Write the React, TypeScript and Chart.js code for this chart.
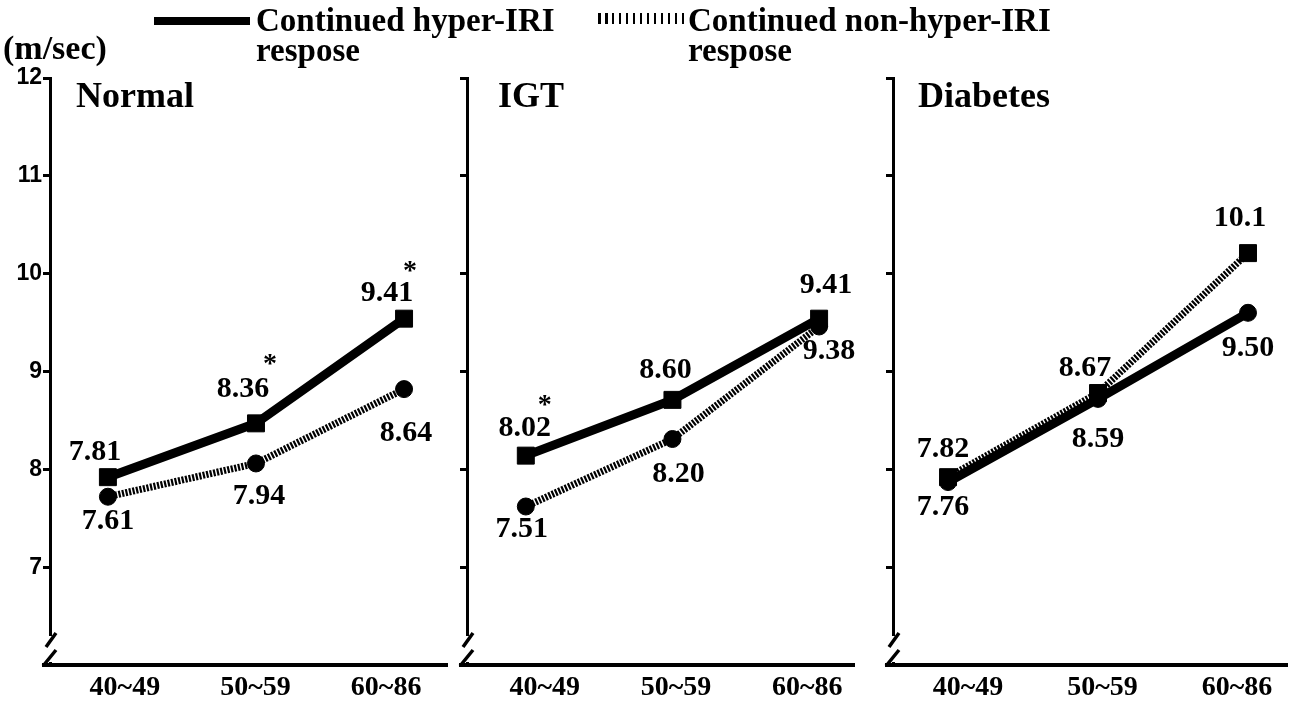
import React, { useEffect, useRef } from "react";
import { Chart, registerables } from "chart.js";

Chart.register(...registerables);

// ---------- data ----------
const ageGroups = ["40~49", "50~59", "60~86"];
const yTickValues = [7, 8, 9, 10, 11, 12];

// plotted positions of the markers
const normalHyper = [7.92, 8.47, 9.54];
const normalNonHyper = [7.72, 8.06, 8.82];
const igtHyper = [8.14, 8.71, 9.54];
const igtNonHyper = [7.62, 8.31, 9.46];
const diabetesHyper = [7.87, 8.72, 9.6];
const diabetesNonHyper = [7.92, 8.78, 10.21];

// printed value labels
const normalHyperLabels = ["7.81", "8.36", "9.41"];
const normalNonHyperLabels = ["7.61", "7.94", "8.64"];
const igtHyperLabels = ["8.02", "8.60", "9.41"];
const igtNonHyperLabels = ["7.51", "8.20", "9.38"];
const diabetesHyperLabels = ["7.76", "8.59", "9.50"];
const diabetesNonHyperLabels = ["7.82", "8.67", "10.1"];

// significance marks (point indices)
const normalHyperStars = [1, 2];
const igtHyperStars = [0];

const SERIF = '"Liberation Serif", "Times New Roman", serif';
const SANS = '"Liberation Sans", Arial, sans-serif';

type Series = {
  values: number[];
  labels: string[];
  solid: boolean;
  marker: "rect" | "circle";
  offsets: [number, number][];
  stars: number[];
  starOffsets: [number, number][];
};

type PanelCfg = {
  title: string;
  left: number;
  width: number;
  yAxisWidth: number;
  showYLabels: boolean;
  titleDx: number;
  dataMin: number;
  dataMax: number;
  labelMin: number;
  labelMax: number;
  series: Series[];
};

const panels: PanelCfg[] = [
  {
    title: "Normal",
    left: 0,
    width: 460,
    yAxisWidth: 50,
    showYLabels: true,
    titleDx: 26,
    dataMin: -0.391,
    dataMax: 2.29,
    labelMin: -0.573,
    labelMax: 2.466,
    series: [
      {
        values: normalHyper,
        labels: normalHyperLabels,
        solid: true,
        marker: "rect",
        offsets: [[-13, -25], [-13, -34], [-17, -25]],
        stars: normalHyperStars,
        starOffsets: [[14, -64], [6, -53]],
      },
      {
        values: normalNonHyper,
        labels: normalNonHyperLabels,
        solid: false,
        marker: "circle",
        offsets: [[0, 25], [3, 33], [2, 44]],
        stars: [],
        starOffsets: [],
      },
    ],
  },
  {
    title: "IGT",
    left: 440,
    width: 427,
    yAxisWidth: 27,
    showYLabels: false,
    titleDx: 31,
    dataMin: -0.401,
    dataMax: 2.238,
    labelMin: -0.593,
    labelMax: 2.357,
    series: [
      {
        values: igtHyper,
        labels: igtHyperLabels,
        solid: true,
        marker: "rect",
        offsets: [[-1, -27], [-7, -30], [7, -33]],
        stars: igtHyperStars,
        starOffsets: [[19, -56]],
      },
      {
        values: igtNonHyper,
        labels: igtNonHyperLabels,
        solid: false,
        marker: "circle",
        offsets: [[-4, 23], [6, 35], [10, 25]],
        stars: [],
        starOffsets: [],
      },
    ],
  },
  {
    title: "Diabetes",
    left: 866,
    width: 434,
    yAxisWidth: 27,
    showYLabels: false,
    titleDx: 25,
    dataMin: -0.367,
    dataMax: 2.26,
    labelMin: -0.558,
    labelMax: 2.372,
    series: [
      {
        values: diabetesHyper,
        labels: diabetesHyperLabels,
        solid: true,
        marker: "circle",
        offsets: [[-5, 25], [0, 40], [0, 35]],
        stars: [],
        starOffsets: [],
      },
      {
        values: diabetesNonHyper,
        labels: diabetesNonHyperLabels,
        solid: false,
        marker: "rect",
        offsets: [[-5, -28], [-13, -25], [-8, -35]],
        stars: [],
        starOffsets: [],
      },
    ],
  },
];

function makeAnnotatePlugin(cfg: PanelCfg) {
  return {
    id: "annotate",
    afterDraw(chart: any) {
      const ctx: CanvasRenderingContext2D = chart.ctx;
      const { left, bottom } = chart.chartArea;
      ctx.save();
      // axis break
      ctx.fillStyle = "#fff";
      ctx.fillRect(left - 4, bottom - 29, 9, 26);
      ctx.strokeStyle = "#000";
      ctx.lineWidth = 3.5;
      ctx.lineCap = "butt";
      ctx.beginPath();
      ctx.moveTo(left + 6, bottom - 32);
      ctx.lineTo(left - 4, bottom - 18);
      ctx.moveTo(left + 6, bottom - 15);
      ctx.lineTo(left - 7, bottom + 1);
      ctx.stroke();
      ctx.lineWidth = 4;
      ctx.beginPath();
      ctx.moveTo(left - 8, bottom);
      ctx.lineTo(left, bottom);
      ctx.stroke();

      // panel title
      ctx.fillStyle = "#000";
      ctx.font = `bold 36px ${SERIF}`;
      ctx.textAlign = "left";
      ctx.textBaseline = "middle";
      ctx.fillText(cfg.title, left + cfg.titleDx, 98);

      // value labels and stars
      cfg.series.forEach((s, di) => {
        const meta = chart.getDatasetMeta(di);
        s.labels.forEach((txt, i) => {
          const p = meta.data[i];
          if (!p) return;
          const [dx, dy] = s.offsets[i];
          ctx.font = `bold 30px ${SERIF}`;
          ctx.textAlign = "center";
          ctx.textBaseline = "middle";
          ctx.fillText(txt, p.x + dx, p.y + dy);
        });
        s.stars.forEach((idx, k) => {
          const p = meta.data[idx];
          if (!p) return;
          const [dx, dy] = s.starOffsets[k];
          ctx.font = `bold 28px ${SERIF}`;
          ctx.textAlign = "center";
          ctx.textBaseline = "alphabetic";
          ctx.fillText("*", p.x + dx, p.y + dy + 13);
        });
      });
      ctx.restore();
    },
  };
}

const zeroSidePadding = (axis: any) => {
  axis.paddingLeft = 0;
  axis.paddingRight = 0;
};

function buildConfig(cfg: PanelCfg): any {
  return {
    type: "line",
    data: {
      datasets: cfg.series.map((s) => ({
        data: s.values.map((v, i) => ({ x: i, y: v })),
        xAxisID: "xp",
        yAxisID: "y",
        borderColor: "#000",
        backgroundColor: "#000",
        borderWidth: s.solid ? 9 : 7,
        borderDash: s.solid ? [] : [2.2, 1.4],
        borderCapStyle: "butt",
        pointStyle: s.marker,
        pointRadius: s.marker === "rect" ? 12 : 8.5,
        pointBackgroundColor: "#000",
        pointBorderColor: "#000",
        pointBorderWidth: 1,
        tension: 0,
        fill: false,
      })),
    },
    options: {
      animation: false,
      responsive: false,
      maintainAspectRatio: false,
      events: [],
      layout: { padding: { top: 78, right: 4, left: 0, bottom: 0 } },
      plugins: { legend: { display: false }, tooltip: { enabled: false } },
      scales: {
        x: {
          type: "linear",
          position: "bottom",
          min: cfg.labelMin,
          max: cfg.labelMax,
          afterBuildTicks: (axis: any) => {
            axis.ticks = ageGroups.map((_, i) => ({ value: i }));
          },
          afterFit: (axis: any) => {
            axis.height = 44;
            zeroSidePadding(axis);
          },
          ticks: {
            callback: (_v: any, i: number) => ageGroups[i],
            autoSkip: false,
            maxRotation: 0,
            padding: 6,
            color: "#000",
            font: { family: SERIF, size: 28, weight: "bold" },
          },
          grid: { display: false, drawTicks: false },
          border: { display: true, width: 4, color: "#000" },
        },
        xp: {
          type: "linear",
          display: false,
          min: cfg.dataMin,
          max: cfg.dataMax,
          ticks: { display: false },
          afterFit: zeroSidePadding,
        },
        y: {
          type: "linear",
          position: "left",
          min: 6,
          max: 12,
          afterBuildTicks: (axis: any) => {
            axis.ticks = yTickValues.map((v) => ({ value: v }));
          },
          afterFit: (axis: any) => {
            axis.width = cfg.yAxisWidth;
          },
          ticks: {
            display: cfg.showYLabels,
            padding: 1,
            color: "#000",
            font: { family: SANS, size: 23, weight: "bold" },
          },
          grid: {
            display: true,
            drawOnChartArea: false,
            drawTicks: true,
            tickLength: 7,
            tickWidth: 3,
            tickColor: "#000",
          },
          border: { display: true, width: 3, color: "#000" },
        },
      },
    },
    plugins: [makeAnnotatePlugin(cfg)],
  };
}

function Panel({ cfg }: { cfg: PanelCfg }) {
  const ref = useRef<HTMLCanvasElement>(null);
  useEffect(() => {
    if (!ref.current) return;
    const chart = new Chart(ref.current, buildConfig(cfg));
    return () => chart.destroy();
  }, [cfg]);
  return (
    <canvas
      ref={ref}
      width={cfg.width}
      height={709}
      style={{ position: "absolute", left: cfg.left, top: 0, width: cfg.width, height: 709 }}
    />
  );
}

const textStyle: React.CSSProperties = {
  position: "absolute",
  fontFamily: SERIF,
  fontWeight: "bold",
  fontSize: 33,
  lineHeight: "30px",
  color: "#000",
  whiteSpace: "nowrap",
};

export default function App() {
  return (
    <div
      style={{
        position: "fixed",
        left: 0,
        top: 0,
        width: 1294,
        height: 709,
        background: "#fff",
        overflow: "hidden",
      }}
    >
      {panels.map((p) => (
        <Panel key={p.title} cfg={p} />
      ))}
      <div style={{ position: "absolute", left: 0, top: 0, width: 1294, height: 70, pointerEvents: "none" }}>
        <div style={{ ...textStyle, left: 3, top: 31, fontSize: 34, lineHeight: "34px" }}>(m/sec)</div>
        <div style={{ position: "absolute", left: 154, top: 17, width: 96, height: 8, background: "#000" }} />
        <div style={{ ...textStyle, left: 256, top: 5 }}>
          Continued hyper-IRI
          <br />
          respose
        </div>
        <div
          style={{
            position: "absolute",
            left: 598,
            top: 13,
            width: 86,
            height: 11,
            background: "repeating-linear-gradient(90deg, #000 0px, #000 2.5px, transparent 2.5px, transparent 7px)",
          }}
        />
        <div style={{ ...textStyle, left: 688, top: 5 }}>
          Continued non-hyper-IRI
          <br />
          respose
        </div>
      </div>
    </div>
  );
}
